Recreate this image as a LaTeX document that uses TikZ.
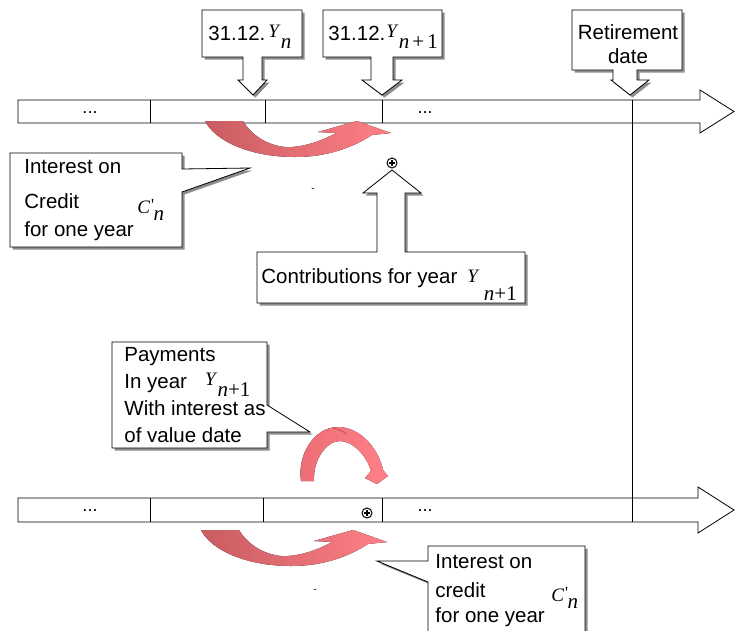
\documentclass[tikz,border=0pt]{standalone}
\usepackage{fontspec}
\setmainfont{Liberation Sans}
\newfontfamily\mathserif{Liberation Serif}
% italic / upright formula pieces at a given size
\newcommand\mvar[2]{{\mathserif\itshape\fontsize{#1}{#1}\selectfont #2}}
\newcommand\mrom[2]{{\mathserif\fontsize{#1}{#1}\selectfont #2}}
% Y with a large lowered subscript: #1 raise of Y, #2 drop of the subscript, #3 subscript
\newcommand\Ysub[3]{\raisebox{#1}{\mvar{19}{Y}}\hspace{2pt}\raisebox{#2}{#3}}
% C' followed by a lowered n
\newcommand\Cprime{\mvar{19}{C}\hspace{1pt}\raisebox{3pt}{\mrom{17}{'}}\hspace{-0.5pt}\raisebox{-7pt}{\mvar{21}{n}}}
% shape with grey drop shadow
\newcommand\shadowed[1]{\fill[black!45, shift={(2.5,2.5)}] #1; \filldraw[outline] #1;}
\tikzset{
  outline/.style={draw=black, line width=0.8pt, fill=white},
  lbl/.style={anchor=base west, inner sep=0pt, font=\fontsize{20.5}{24}\selectfont},
  clbl/.style={anchor=base, inner sep=0pt, font=\fontsize{20.5}{24}\selectfont},
  dots/.style={anchor=base, inner sep=0pt, font=\fontsize{18}{18}\selectfont},
  oplus/.style={circle, draw, line width=1pt, minimum size=10pt, inner sep=0pt,
    path picture={\draw[line width=1.4pt]
      ([xshift=-3pt]path picture bounding box.center) -- ([xshift=3pt]path picture bounding box.center)
      ([yshift=-3pt]path picture bounding box.center) -- ([yshift=3pt]path picture bounding box.center);}},
  ribbon/.style={left color=redA, right color=redB, draw=none},
}
\definecolor{redA}{RGB}{200,92,98}
\definecolor{redB}{RGB}{255,128,134}
\definecolor{redC}{RGB}{236,110,116}
\begin{document}
\begin{tikzpicture}[x=1pt, y=-1pt, line width=0.8pt]
\clip (0,0) rectangle (736,630);
\fill[white] (0,0) rectangle (736,630);

% ---- upper time line ----
\filldraw[outline] (18,100) -- (700,100) -- (700,90) -- (734,111.5) -- (700,133) -- (700,123) -- (18,123) -- cycle;
\foreach \x in {150,265,382} \draw (\x,100) -- (\x,123);
\node[dots] (u1) at (90,113) {...};
\node[dots] (u2) at (425,113) {...};

% ---- lower time line ----
\filldraw[outline] (18,498) -- (698,498) -- (698,487) -- (734,510) -- (698,533) -- (698,522) -- (18,522) -- cycle;
\foreach \x in {150,263,382} \draw (\x,498) -- (\x,522);
\node[dots] (l1) at (90,511) {...};
\node[dots] (l2) at (425,511) {...};

% retirement line through both time lines
\coordinate (ret1) at (632,100);
\coordinate (ret2) at (632,522);
\draw (ret1) -- (ret2);

% ---- date callouts ----
\shadowed{(202,10) -- (302,10) -- (302,57) -- (262,57) -- (262,80) -- (267,80) -- (253,95) -- (238,80) -- (243,80) -- (243,57) -- (202,57) -- cycle}
\node[lbl] (dn) at (208,40) {31.12.\hspace{3pt}\Ysub{3pt}{-8pt}{\mvar{21}{n}}};

\shadowed{(323,10) -- (442,10) -- (442,57) -- (393,57) -- (393,80) -- (402,80) -- (382,95) -- (362,80) -- (371,80) -- (371,57) -- (323,57) -- cycle}
\node[lbl] (dn1) at (328,40) {31.12.\hspace{1pt}\Ysub{3pt}{-8pt}{\mvar{21}{n}\hspace{3pt}\mrom{21}{+}\hspace{3pt}\mrom{21}{1}}};

\shadowed{(572,10) -- (682,10) -- (682,70) -- (637,70) -- (637,80) -- (649,80) -- (630,95) -- (611,80) -- (613,80) -- (613,70) -- (572,70) -- cycle}
\node[clbl] (rt) at (628,39) {Retirement};
\node[clbl] (rd) at (628,63) {date};

% ---- upper interest arrow ----
\fill[ribbon] (205,121) .. controls (215,141) and (250,157) .. (295,157)
  .. controls (330,157) and (355,146) .. (372,135) -- (391,133) -- (357,121) -- (318,132) -- (336,133)
  .. controls (320,142) and (300,148) .. (285,147) .. controls (265,145) and (250,133) .. (243,121) -- cycle;

% ---- interest callout (upper) ----
\shadowed{(10,153) -- (182,153) -- (182,169) -- (250,168) -- (182,192) -- (182,247) -- (10,247) -- cycle}
\node[lbl] (i1) at (24,173) {Interest on};
\node[lbl] (i2) at (24,208) {Credit};
\node[lbl] (i3) at (24,236) {for one year};
\node[anchor=base west, inner sep=0pt] (c1) at (137,213) {\Cprime};
\node[inner sep=0pt, font=\fontsize{10}{10}\selectfont] (m1) at (313,190) {-};

% ---- contributions ----
\node[oplus] (p1) at (392,163) {};
\shadowed{(257,252) -- (377,252) -- (377,193) -- (363,193) -- (392,170) -- (421,193) -- (405,193) -- (405,252) -- (525,252) -- (525,303) -- (257,303) -- cycle}
\node[lbl] (cf) at (261,283) {Contributions for year\hspace{10pt}\raisebox{1pt}{\mvar{19}{Y}}\hspace{6pt}\raisebox{-17pt}{\mvar{21}{n}\mrom{21}{+1}}};

% ---- payments callout ----
\shadowed{(112,342) -- (267,342) -- (267,405) -- (310,432) -- (267,432) -- (267,448) -- (112,448) -- cycle}
\node[lbl] (y1) at (124,361) {Payments};
\node[lbl] (y2) at (124,388) {In year\hspace{18pt}\Ysub{3pt}{-8pt}{\mvar{21}{n}\mrom{21}{+1}}};
\node[lbl] (y3) at (124,415) {With interest as};
\node[lbl] (y4) at (124,442) {of value date};

% ---- arched payment arrow ----
\fill[left color=redC, right color=redB] (301,481) .. controls (297,455) and (314,427) .. (338,427)
  .. controls (361,427) and (379,450) .. (383,470) -- (388,476) -- (377,484) -- (365,478) -- (371,471)
  .. controls (367,456) and (353,441) .. (340,441) .. controls (326,441) and (313,460) .. (314,481) -- cycle;
\draw[redA!80!black, line width=0.6pt] (333,428) .. controls (338,429) and (343,431) .. (346,434);
\node[oplus] (p2) at (367,513) {};

% ---- lower interest arrow ----
\begin{scope}[shift={(-4,409)}]
\fill[ribbon] (205,121) .. controls (215,141) and (250,157) .. (295,157)
  .. controls (330,157) and (355,146) .. (372,135) -- (391,133) -- (357,121) -- (318,132) -- (336,133)
  .. controls (320,142) and (300,148) .. (285,147) .. controls (265,145) and (250,133) .. (243,121) -- cycle;
\end{scope}
\node[inner sep=0pt, font=\fontsize{10}{10}\selectfont] (m2) at (315,591) {-};

% ---- interest callout (lower) ----
\shadowed{(428,546) -- (585,546) -- (585,645) -- (428,645) -- (428,582) -- (377,561) -- (428,561) -- cycle}
\node[lbl] (k1) at (435,568) {Interest on};
\node[lbl] (k2) at (435,597) {credit};
\node[lbl] (k3) at (435,622) {for one year};
\node[anchor=base west, inner sep=0pt] (c2) at (551,601) {\Cprime};
\end{tikzpicture}
\end{document}
